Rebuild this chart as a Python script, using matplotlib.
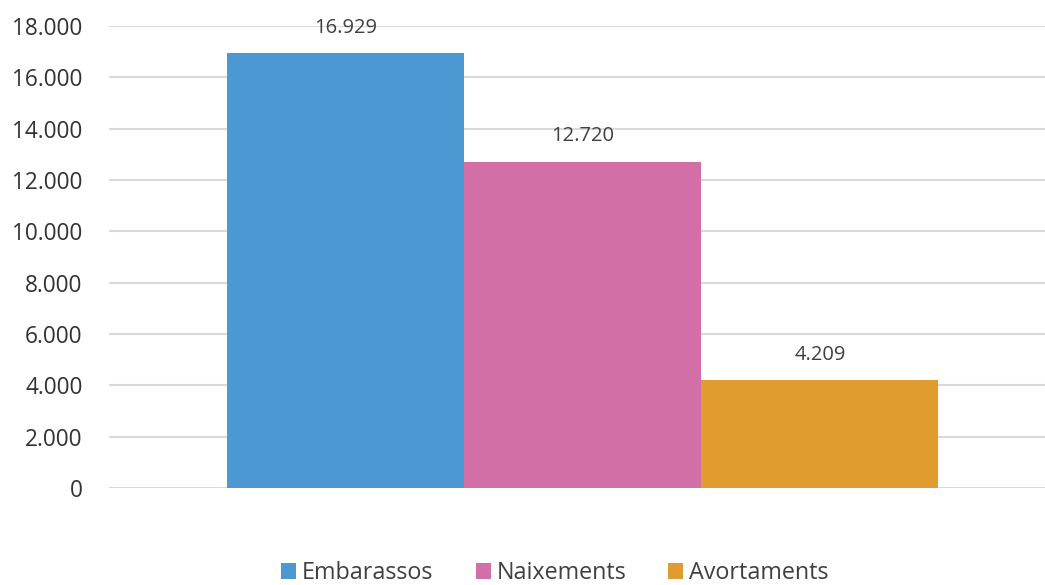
import matplotlib
matplotlib.use("Agg")
import matplotlib.pyplot as plt
from matplotlib.ticker import FuncFormatter
from matplotlib.patches import Patch

series = ["Embarassos", "Naixements", "Avortaments"]
values = [16929, 12720, 4209]
labels = ["16.929", "12.720", "4.209"]
colors = ["#4B98D2", "#D16FA6", "#E09C2F"]
yticks = [0, 2000, 4000, 6000, 8000, 10000, 12000, 14000, 16000, 18000]

plt.rcParams['font.family'] = ['Open Sans', 'DejaVu Sans']

fig = plt.figure(figsize=(10.45, 5.85), dpi=100)
ax = fig.add_axes([109/1045, 1-488/585, 1-109/1045, (488-26)/585])

x = list(range(len(series)))
bars = ax.bar(x, values, width=1.0, color=colors, zorder=3)
for xi, v, lab in zip(x, values, labels):
    ax.annotate(lab, (xi, v), xytext=(0, 11), textcoords="offset points",
                ha="center", va="bottom", fontsize=14.5, color="#404040")

ax.set_xlim(-1.0, 2.95)
ax.set_ylim(0, 18000)
ax.set_yticks(yticks)
ax.yaxis.set_major_formatter(FuncFormatter(lambda v, p: f"{int(v):,}".replace(",", ".")))
ax.tick_params(axis="y", length=0, pad=19, labelsize=16.3, labelcolor="#333333")
ax.set_xticks([])
ax.grid(axis="y", color="#d9d9d9", linewidth=1.5, zorder=0)
for s in ax.spines.values():
    s.set_visible(False)

handles = [Patch(facecolor=c, edgecolor="none") for c in colors]
fig.legend(handles, series, loc="center", bbox_to_anchor=(555/1045, 1-573/585),
           ncol=3, frameon=False, fontsize=16.8, labelcolor="#404040",
           handlelength=0.65, handleheight=0.65, handletextpad=0.25, columnspacing=1.8)

fig.savefig("out.png", dpi=100)
